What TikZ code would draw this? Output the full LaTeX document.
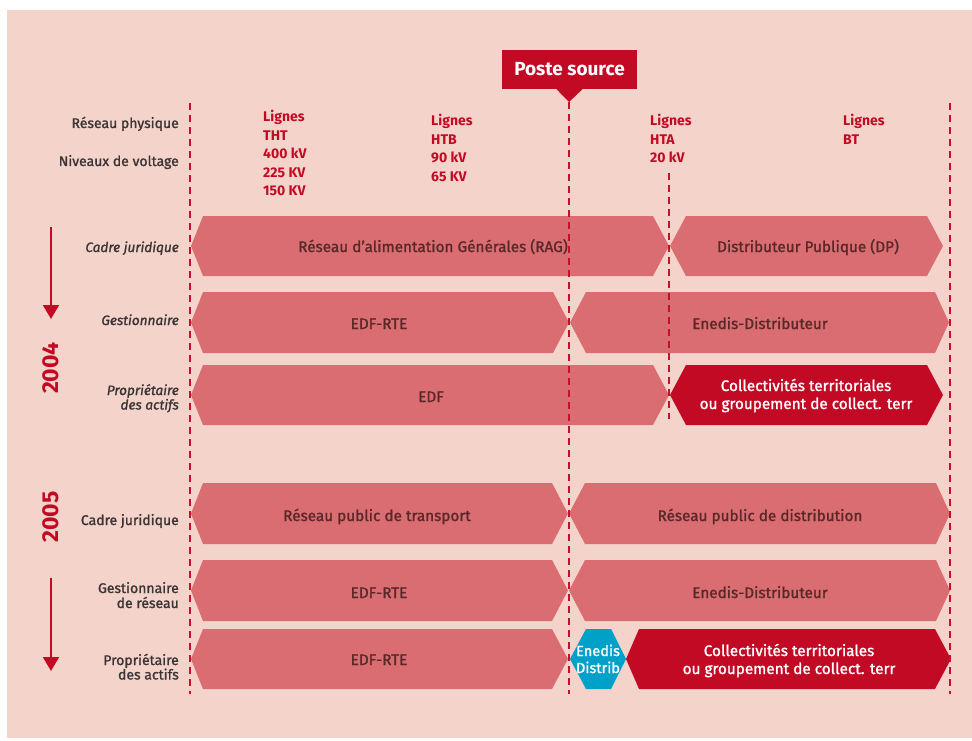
\documentclass[tikz,border=0pt]{standalone}
\usepackage{fontspec}
\setmainfont{Fira Sans}
\newfontfamily\medfont[FakeBold=1.3]{Fira Sans}
\usetikzlibrary{arrows.meta}
\definecolor{bgpink}{HTML}{F4D3CB}
\definecolor{shapepink}{HTML}{DA6D72}
\definecolor{darkred}{HTML}{C20A24}
\definecolor{bluehex}{HTML}{00A1C9}
\definecolor{innertext}{HTML}{5A2828}
\definecolor{labeltext}{HTML}{3A3434}
\definecolor{dashred}{HTML}{C8102E}
% #1 style, #2 left x, #3 right x, #4 top y, #5 bottom y, #6 left depth, #7 right depth, #8 name
\newcommand\hexfill[8]{%
  \fill[#1] (#2,{(#4+#5)/2}) -- ({#2+#6},#4) -- ({#3-#7},#4) -- (#3,{(#4+#5)/2})
    -- ({#3-#7},#5) -- ({#2+#6},#5) -- cycle;
  \coordinate (#8) at ({(#2+#3)/2},{(#4+#5)/2});}
\begin{document}
\begin{tikzpicture}[x=1pt,y=-1pt,
  lab/.style={font=\medfont\fontsize{14}{14}\selectfont, text=labeltext, anchor=base east, inner sep=0pt},
  itlab/.style={lab, font=\medfont\fontsize{13.6}{14}\selectfont\itshape},
  redlab/.style={font=\fontsize{14}{14}\selectfont\bfseries, text=darkred, anchor=base west, inner sep=0pt},
  intext/.style={font=\medfont\fontsize{15.3}{15.3}\selectfont, text=innertext, anchor=base, inner sep=0pt},
  whitetext/.style={font=\medfont\fontsize{15.3}{15.3}\selectfont, text=white, anchor=base, inner sep=0pt},
  bluetext/.style={whitetext, font=\medfont\fontsize{14.6}{14.6}\selectfont},
  year/.style={font=\fontsize{23}{23}\selectfont\bfseries, text=darkred, rotate=90, inner sep=0pt},
  dashline/.style={draw=dashred, line width=1.8pt, dash pattern=on 7pt off 5pt},
  timearrow/.style={draw=darkred, line width=2pt, -{Triangle[width=16pt,length=14pt]}},
  postebox/.style={fill=darkred, text=white, font=\fontsize{19}{19}\selectfont\bfseries,
    minimum width=135pt, minimum height=39pt, inner sep=0pt}
]
\useasboundingbox (0,0) rectangle (972,741);
\fill[white] (0,0) rectangle (972,741);
\fill[bgpink] (7,10) rectangle (972,738);

% ---- header ----
\node[postebox] (poste) at (569.5,69.5) {Poste source};
\fill[darkred] ([xshift=-13pt]poste.south) -- ([xshift=13pt]poste.south) -- (569,102) -- cycle;
\coordinate (tip) at (569,102);

\node[lab] (rp) at (179,128) {Réseau physique};
\node[lab] (nv) at (179,166) {Niveaux de voltage};

\node[redlab] (l1a) at (263,122) {Lignes};
\node[redlab] (l1b) at (263,140.5) {THT};
\node[redlab] (l1c) at (263,159) {400 kV};
\node[redlab] (l1d) at (263,177.5) {225 KV};
\node[redlab] (l1e) at (263,196) {150 KV};

\node[redlab] (l2a) at (431,126) {Lignes};
\node[redlab] (l2b) at (431,144.5) {HTB};
\node[redlab] (l2c) at (431,163) {90 kV};
\node[redlab] (l2d) at (431,181.5) {65 KV};

\node[redlab] (l3a) at (650,126) {Lignes};
\node[redlab] (l3b) at (650,144.5) {HTA};
\node[redlab] (l3c) at (650,163) {20 kV};

\node[redlab] (l4a) at (843,126) {Lignes};
\node[redlab] (l4b) at (843,144.5) {BT};

% ---- 2004 rows ----
\hexfill{shapepink}{191}{669}{216}{276}{12}{16}{r1a}
\hexfill{shapepink}{670}{943}{216}{276}{16}{16}{r1b}
\hexfill{shapepink}{191}{569}{292}{353}{12}{16}{r2a}
\hexfill{shapepink}{570}{949}{292}{353}{16}{14}{r2b}
\hexfill{shapepink}{191}{669}{365}{425}{12}{16}{r3a}
\hexfill{darkred}{670}{943}{365}{425}{16}{16}{r3b}

\node[intext] (t1a) at (433,252) {Réseau d’alimentation Générales (RAG)};
\node[intext] (t1b) at (808,252) {Distributeur Publique (DP)};
\node[intext] (t2a) at (379,329) {EDF-RTE};
\node[intext] (t2b) at (760,329) {Enedis-Distributeur};
\node[intext] (t3a) at (431,402) {EDF};
\node[whitetext] (t3b1) at (806,391) {Collectivités territoriales};
\node[whitetext] (t3b2) at (806,409) {ou groupement de collect. terr};

\node[itlab] (c1) at (179,252) {Cadre juridique};
\node[itlab] (g1) at (179,325) {Gestionnaire};
\node[itlab] (p1a) at (179,395) {Propriétaire};
\node[itlab] (p1b) at (179,409.5) {des actifs};

% ---- 2005 rows ----
\hexfill{shapepink}{191}{568}{483}{544}{12}{16}{r4a}
\hexfill{shapepink}{569}{950}{483}{544}{16}{14}{r4b}
\hexfill{shapepink}{191}{568}{560}{621}{12}{16}{r5a}
\hexfill{shapepink}{569}{950}{560}{621}{16}{14}{r5b}
\hexfill{shapepink}{191}{568}{629}{689}{12}{16}{r6a}
\hexfill{bluehex}{570}{626}{629}{689}{16}{15}{r6b}
\hexfill{darkred}{626}{951}{629}{689}{13}{16}{r6c}

\node[intext] (t4a) at (377,521) {Réseau public de transport};
\node[intext] (t4b) at (760,521) {Réseau public de distribution};
\node[intext] (t5a) at (379,598) {EDF-RTE};
\node[intext] (t5b) at (760,598) {Enedis-Distributeur};
\node[intext] (t6a) at (379,665) {EDF-RTE};
\node[bluetext] (t6b1) at (598,656) {Enedis};
\node[bluetext] (t6b2) at (598,673) {Distrib};
\node[whitetext] (t6c1) at (789,656) {Collectivités territoriales};
\node[whitetext] (t6c2) at (789,674) {ou groupement de collect. terr};

\node[lab] (c2) at (179,525) {Cadre juridique};
\node[lab] (g2a) at (179,593) {Gestionnaire};
\node[lab] (g2b) at (179,608) {de réseau};
\node[lab] (p2a) at (179,665) {Propriétaire};
\node[lab] (p2b) at (179,679.5) {des actifs};

% ---- dashed separators ----
\coordinate (d1s) at (190,103); \coordinate (d1e) at (190,694);
\coordinate (d3s) at (950,103); \coordinate (d3e) at (950,694);
\coordinate (d2e) at (569,694);
\coordinate (d4s) at (669,173); \coordinate (d4e) at (669,419);
\draw[dashline] (d1s) -- (d1e);
\draw[dashline] (tip) -- (d2e);
\draw[dashline] (d3s) -- (d3e);
\draw[dashline] (d4s) -- (d4e);

% ---- time arrows and years ----
\coordinate (a1s) at (51,227); \coordinate (a1e) at (51,319);
\coordinate (a2s) at (51,578); \coordinate (a2e) at (51,671);
\draw[timearrow] (a1s) -- (a1e);
\draw[timearrow] (a2s) -- (a2e);
\node[year] (y2004) at (51,368) {2004};
\node[year] (y2005) at (51,517) {2005};
\end{tikzpicture}
\end{document}
